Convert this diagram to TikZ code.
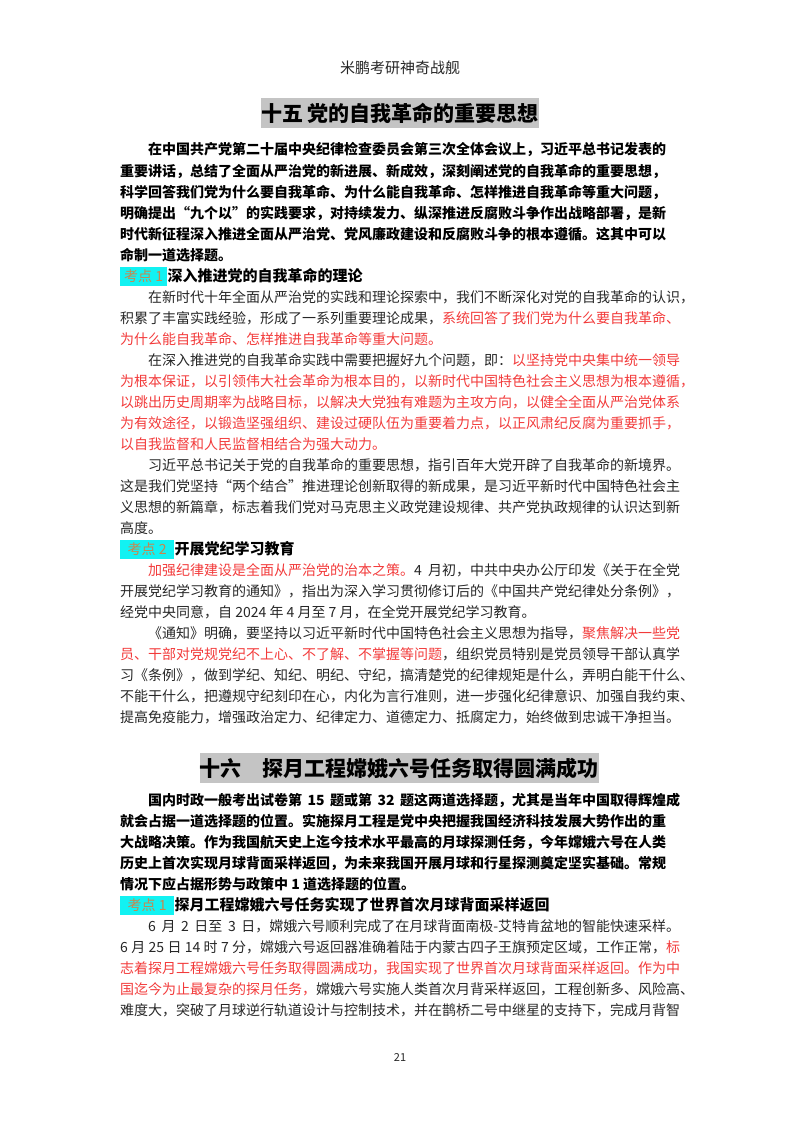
\documentclass[tikz,border=0pt]{standalone}
\usepackage{fontspec}
\setmainfont{Noto Sans CJK SC}
\XeTeXlinebreaklocale "zh"
\XeTeXlinebreakskip=0pt plus 4pt
\definecolor{rd}{HTML}{F23A3A}
\definecolor{bd}{HTML}{262626}
\definecolor{kd}{HTML}{C8864E}
\definecolor{cy}{HTML}{12F2F2}
\definecolor{tb}{HTML}{C4C4C4}
\newcommand{\R}[1]{{\color{rd}#1}}
\newcommand{\FL}[1]{\makebox[560pt][s]{#1}}
\newcommand{\IL}[1]{\makebox[532pt][s]{#1}}
\begin{document}
\begin{tikzpicture}[x=1pt,y=-1pt,
  txt/.style={anchor=west,inner sep=0pt,text=bd,font=\fontsize{14}{16}\selectfont},
  btxt/.style={txt,text=black,font=\fontsize{14}{16}\selectfont\bfseries},
  kd/.style={anchor=west,inner sep=1.5pt,fill=cy,text=kd,minimum height=19pt,font=\fontsize{14}{16}\selectfont},
  hd/.style={anchor=west,inner sep=0pt,text=black,font=\fontsize{15}{17}\selectfont\bfseries},
  title/.style={fill=tb,inner sep=0pt,minimum height=30pt,text=black,font=\fontsize{21}{23}\selectfont\bfseries}]
\useasboundingbox (0,0) rectangle (800,1132);
\node[anchor=center,inner sep=0pt,font=\fontsize{15}{17}\selectfont,text=bd] (hdr) at (400,68) {米鹏考研神奇战舰};
\node[title,minimum width=256pt] (t1) at (400,113) {十五 党的自我革命的重要思想};
\node[btxt] (a0) at (148,150) {\IL{在中国共产党第二十届中央纪律检查委员会第三次全体会议上，习近平总书记发表的}};
\node[btxt] (a1) at (120,171) {\FL{重要讲话，总结了全面从严治党的新进展、新成效，深刻阐述党的自我革命的重要思想，}};
\node[btxt] (a2) at (120,192) {\FL{科学回答我们党为什么要自我革命、为什么能自我革命、怎样推进自我革命等重大问题，}};
\node[btxt] (a3) at (120,213) {\FL{明确提出“九个以”的实践要求，对持续发力、纵深推进反腐败斗争作出战略部署，是新}};
\node[btxt] (a4) at (120,234) {\FL{时代新征程深入推进全面从严治党、党风廉政建设和反腐败斗争的根本遵循。这其中可以}};
\node[btxt] (a5) at (120,255) {命制一道选择题。};
\node[kd,minimum width=47pt,align=left] (k1) at (120,276) {考点 1};
\node[hd] (h1) at (k1.east) {深入推进党的自我革命的理论};
\node[txt] (b0) at (148,297) {\IL{在新时代十年全面从严治党的实践和理论探索中，我们不断深化对党的自我革命的认识，}};
\node[txt] (b1) at (120,318) {\FL{积累了丰富实践经验，形成了一系列重要理论成果，\R{系统回答了我们党为什么要自我革命、}}};
\node[txt] (b2) at (120,339) {\R{为什么能自我革命、怎样推进自我革命等重大问题。}};
\node[txt] (b3) at (148,360) {\IL{在深入推进党的自我革命实践中需要把握好九个问题，即：\R{以坚持党中央集中统一领导}}};
\node[txt,text=rd] (b4) at (120,381) {\FL{为根本保证，以引领伟大社会革命为根本目的，以新时代中国特色社会主义思想为根本遵循，}};
\node[txt,text=rd] (b5) at (120,402) {\FL{以跳出历史周期率为战略目标，以解决大党独有难题为主攻方向，以健全全面从严治党体系}};
\node[txt,text=rd] (b6) at (120,423) {\FL{为有效途径，以锻造坚强组织、建设过硬队伍为重要着力点，以正风肃纪反腐为重要抓手，}};
\node[txt,text=rd] (b7) at (120,444) {以自我监督和人民监督相结合为强大动力。};
\node[txt] (b8) at (148,465) {\IL{习近平总书记关于党的自我革命的重要思想，指引百年大党开辟了自我革命的新境界。}};
\node[txt] (b9) at (120,486) {\FL{这是我们党坚持“两个结合”推进理论创新取得的新成果，是习近平新时代中国特色社会主}};
\node[txt] (b10) at (120,507) {\FL{义思想的新篇章，标志着我们党对马克思主义政党建设规律、共产党执政规律的认识达到新}};
\node[txt] (b11) at (120,528) {高度。};
\node[kd,minimum width=54pt,align=left] (k2) at (120,549) {考点 2};
\node[hd] (h2) at (k2.east) {开展党纪学习教育};
\node[txt] (c0) at (148,570) {\IL{\R{加强纪律建设是全面从严治党的治本之策。}4 月初，中共中央办公厅印发《关于在全党}};
\node[txt] (c1) at (120,591) {\FL{开展党纪学习教育的通知》，指出为深入学习贯彻修订后的《中国共产党纪律处分条例》，}};
\node[txt] (c2) at (120,612) {经党中央同意，自 2024 年 4 月至 7 月，在全党开展党纪学习教育。};
\node[txt] (c3) at (148,633) {\IL{《通知》明确，要坚持以习近平新时代中国特色社会主义思想为指导，\R{聚焦解决一些党}}};
\node[txt] (c4) at (120,654) {\FL{\R{员、干部对党规党纪不上心、不了解、不掌握等问题}，组织党员特别是党员领导干部认真学}};
\node[txt] (c5) at (120,675) {\FL{习《条例》，做到学纪、知纪、明纪、守纪，搞清楚党的纪律规矩是什么，弄明白能干什么、}};
\node[txt] (c6) at (120,696) {\FL{不能干什么，把遵规守纪刻印在心，内化为言行准则，进一步强化纪律意识、加强自我约束、}};
\node[txt] (c7) at (120,717) {\FL{提高免疫能力，增强政治定力、纪律定力、道德定力、抵腐定力，始终做到忠诚干净担当。}};
\node[title,minimum width=368pt] (t2) at (399,768) {十六\quad 探月工程嫦娥六号任务取得圆满成功};
\node[btxt] (d0) at (148,800) {\IL{国内时政一般考出试卷第 15 题或第 32 题这两道选择题，尤其是当年中国取得辉煌成}};
\node[btxt] (d1) at (120,821) {\FL{就会占据一道选择题的位置。实施探月工程是党中央把握我国经济科技发展大势作出的重}};
\node[btxt] (d2) at (120,842) {\FL{大战略决策。作为我国航天史上迄今技术水平最高的月球探测任务，今年嫦娥六号在人类}};
\node[btxt] (d3) at (120,863) {\FL{历史上首次实现月球背面采样返回，为未来我国开展月球和行星探测奠定坚实基础。常规}};
\node[btxt] (d4) at (120,884) {情况下应占据形势与政策中 1 道选择题的位置。};
\node[kd,minimum width=54pt,align=left] (k3) at (120,905) {考点 1};
\node[hd] (h3) at (k3.east) {探月工程嫦娥六号任务实现了世界首次月球背面采样返回};
\node[txt] (e0) at (148,926) {\IL{6 月 2 日至 3 日，嫦娥六号顺利完成了在月球背面南极-艾特肯盆地的智能快速采样。}};
\node[txt] (e1) at (120,947) {\FL{6 月 25 日 14 时 7 分，嫦娥六号返回器准确着陆于内蒙古四子王旗预定区域，工作正常，\R{标}}};
\node[txt,text=rd] (e2) at (120,968) {\FL{志着探月工程嫦娥六号任务取得圆满成功，我国实现了世界首次月球背面采样返回。作为中}};
\node[txt] (e3) at (120,989) {\FL{\R{国迄今为止最复杂的探月任务，}嫦娥六号实施人类首次月背采样返回，工程创新多、风险高、}};
\node[txt] (e4) at (120,1010) {\FL{难度大，突破了月球逆行轨道设计与控制技术，并在鹊桥二号中继星的支持下，完成月背智}};
\node[anchor=center,inner sep=0pt,font=\fontsize{11}{13}\selectfont,text=bd] (pg) at (400,1057) {21};
\end{tikzpicture}
\end{document}
